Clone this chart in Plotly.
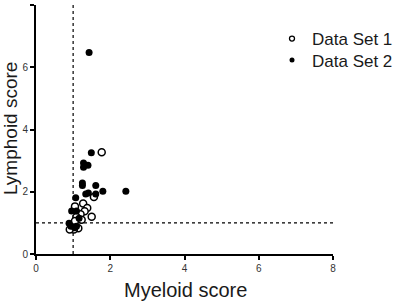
import plotly.graph_objects as go

# Data Set 1 (open circles)
ds1_x = [1.77, 1.56, 1.27, 1.05, 1.38, 1.31, 1.20, 1.50, 1.09, 1.05, 1.23, 0.95, 1.14, 1.02, 0.91]
ds1_y = [3.27, 1.83, 1.62, 1.53, 1.48, 1.37, 1.28, 1.20, 1.19, 1.06, 1.10, 0.83, 0.83, 0.79, 0.79]

# Data Set 2 (filled circles)
ds2_x = [1.43, 1.49, 1.28, 1.40, 1.28, 1.25, 1.25, 1.61, 1.80, 2.42, 1.41, 1.34, 1.61, 1.07, 0.96, 1.09, 1.16, 0.89, 0.94, 1.04, 1.09]
ds2_y = [6.47, 3.25, 2.92, 2.85, 2.79, 2.28, 2.20, 2.20, 2.02, 2.02, 1.96, 1.93, 1.93, 1.81, 1.38, 1.38, 1.15, 0.99, 0.89, 0.84, 0.89]

threshold = 1
tick_vals = [0, 2, 4, 6, 8]

W, H = 400, 303
L, R, T, B = 36, 67, 5, 49

fig = go.Figure()
fig.add_trace(go.Scatter(x=ds1_x, y=ds1_y, mode="markers", name="Data Set 1", showlegend=False,
                         marker=dict(symbol="circle", size=7, color="white",
                                     line=dict(color="black", width=1.5)),
                         cliponaxis=False))
fig.add_trace(go.Scatter(x=ds2_x, y=ds2_y, mode="markers", name="Data Set 2", showlegend=False,
                         marker=dict(symbol="circle", size=7, color="black",
                                     line=dict(color="black", width=0)),
                         cliponaxis=False))
# legend entries with small markers (each in its own legend for exact row spacing)
fig.add_trace(go.Scatter(x=[None], y=[None], mode="markers", name="Data Set 1", legend="legend",
                         marker=dict(symbol="circle", size=5, color="white",
                                     line=dict(color="black", width=1.3))))
fig.add_trace(go.Scatter(x=[None], y=[None], mode="markers", name="Data Set 2", legend="legend2",
                         marker=dict(symbol="circle", size=5, color="black",
                                     line=dict(color="black", width=0))))

fig.add_shape(type="line", xref="x", yref="y", x0=threshold, x1=threshold, y0=0, y1=8,
              line=dict(color="black", width=1.2, dash="dot"), layer="below")
fig.add_shape(type="line", xref="x", yref="y", x0=0, x1=8, y0=threshold, y1=threshold,
              line=dict(color="black", width=1.2, dash="dot"), layer="below")

pw = W - L - R
ph = H - T - B
def px_x(p):
    return (p - L) / pw
def px_y(p):
    return (H - B - p) / ph

fig.add_annotation(text="Myeloid score", xref="paper", yref="paper",
                   x=px_x(185), y=px_y(290), xanchor="center", yanchor="middle",
                   showarrow=False, font=dict(size=20, color="#1a1a1a"))
fig.add_annotation(text="Lymphoid score", xref="paper", yref="paper",
                   x=px_x(10), y=px_y(129), xanchor="center", yanchor="middle",
                   textangle=-90, showarrow=False, font=dict(size=19, color="#1a1a1a"))

legend_style = dict(xanchor="left", yanchor="top",
                    font=dict(size=17, color="#1a1a1a"), bgcolor="rgba(0,0,0,0)",
                    itemsizing="trace")

fig.update_layout(
    width=W, height=H,
    margin=dict(l=L, r=R, t=T, b=B, autoexpand=False),
    paper_bgcolor="white", plot_bgcolor="white",
    font=dict(family="Arial, Liberation Sans, sans-serif", color="black"),
    showlegend=True,
    legend=dict(x=px_x(272), y=px_y(21), **legend_style),
    legend2=dict(x=px_x(272), y=px_y(42.5), **legend_style),
    xaxis=dict(range=[0, 8], tickvals=tick_vals, showgrid=False, zeroline=False,
               showline=True, linecolor="black", linewidth=2, automargin=False,
               ticks="outside", ticklen=4, tickwidth=1.5, tickcolor="black",
               tickfont=dict(size=10, color="#333")),
    yaxis=dict(range=[0, 8], tickvals=tick_vals, showgrid=False, zeroline=False,
               showline=True, linecolor="black", linewidth=2, automargin=False,
               ticks="outside", ticklen=4, tickwidth=1.5, tickcolor="black",
               tickfont=dict(size=10, color="#333")),
)

fig.write_html("out.html", config={"displayModeBar": False},
               post_script="document.body.style.margin='0';document.body.style.overflow='hidden';")
